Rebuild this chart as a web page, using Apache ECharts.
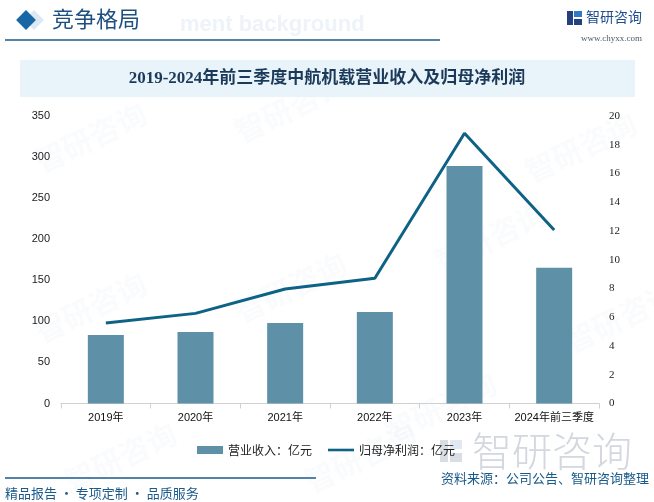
<!DOCTYPE html>
<html>
<head>
<meta charset="utf-8">
<script src="https://cdn.jsdelivr.net/npm/echarts@6/dist/echarts.min.js"></script>
<style>
html,body{margin:0;padding:0;background:#fff;}
#c{width:654px;height:502px;}
</style>
</head>
<body>
<div id="c"></div>
<script>
const categories = ['2019年','2020年','2021年','2022年','2023年','2024年前三季度'];
const revenue = [83.4, 87.0, 97.9, 111.4, 289.1, 165.3];
const netProfit = [5.6, 6.27, 7.97, 8.71, 18.8, 12.07];
const leftTicks = {min: 0, max: 350, interval: 50};
const rightTicks = {min: 0, max: 20, interval: 2};
const seriesNames = ['营业收入：亿元', '归母净利润：亿元'];

const CJK = '"Noto Sans CJK SC", sans-serif';
const blue = '#1A5A8A';

const chart = echarts.init(document.getElementById('c'), null, {renderer: 'canvas'});

// faint watermarks
const wm = [];
const wmPos = [[30,150],[230,120],[30,320],[230,300],[430,250],[60,470],[300,470],[520,160],[560,330],[380,420]];
wmPos.forEach(p => {
  wm.push({
    type: 'text', x: p[0], y: p[1], rotation: Math.PI/7, silent: true, z: 0,
    style: {text: '智研咨询', font: 'bold 30px ' + CJK, fill: 'rgba(200,215,228,0.09)'}
  });
});

chart.setOption({
  animation: false,
  backgroundColor: '#fff',
  grid: {left: 61, right: 55, top: 116, bottom: 98.5},
  legend: {
    data: [
      {name: seriesNames[0], icon: 'rect'},
      {name: seriesNames[1], icon: 'path://M0,0 L30,0 L30,3 L0,3 Z'}
    ],
    left: 192, top: 439, itemWidth: 26, itemHeight: 8, itemGap: 16,
    textStyle: {fontFamily: CJK, fontSize: 12, color: '#222'}
  },
  xAxis: {
    type: 'category', data: categories,
    axisLine: {lineStyle: {color: '#d0d0d0'}},
    axisTick: {show: true, lineStyle: {color: '#d0d0d0'}, length: 5},
    axisLabel: {fontFamily: 'Liberation Sans, ' + CJK, fontSize: 11, color: '#111', margin: 9, interval: 0}
  },
  yAxis: [
    {
      type: 'value', min: leftTicks.min, max: leftTicks.max, interval: leftTicks.interval,
      splitLine: {show: false}, axisLine: {show: false}, axisTick: {show: false},
      axisLabel: {fontFamily: 'Liberation Sans, Arial, sans-serif', fontSize: 11, color: '#222', margin: 11}
    },
    {
      type: 'value', min: rightTicks.min, max: rightTicks.max, interval: rightTicks.interval,
      splitLine: {show: false}, axisLine: {show: false}, axisTick: {show: false},
      axisLabel: {fontFamily: 'Liberation Serif, serif', fontSize: 11, color: '#222', margin: 10}
    }
  ],
  series: [
    {
      name: seriesNames[0], type: 'bar', data: revenue, yAxisIndex: 0,
      barWidth: 36, itemStyle: {color: '#5E91A8'}, z: 2
    },
    {
      name: seriesNames[1], type: 'line', data: netProfit, yAxisIndex: 1,
      showSymbol: false, symbol: 'none', lineStyle: {color: '#0E6285', width: 3}, itemStyle: {color: '#0E6285'}, z: 3
    }
  ],
  graphic: wm.concat([
    // header background faint text
    {type: 'text', x: 180, y: 14, silent: true, style: {text: 'ment background', font: 'bold 22px "Liberation Sans", Arial, sans-serif', fill: '#edf3f9'}},
    // diamonds
    {type: 'rect', shape: {x: -7, y: -7, width: 14, height: 14}, x: 34, y: 20, rotation: Math.PI/4, style: {fill: '#dce9f4'}},
    {type: 'rect', shape: {x: -7, y: -7, width: 14, height: 14}, x: 26, y: 20, rotation: Math.PI/4, style: {fill: '#1766A5'}},
    {type: 'text', x: 52, y: 8, style: {text: '竞争格局', font: '22px ' + CJK, fill: '#1D4F80'}},
    {type: 'line', shape: {x1: 5, y1: 40, x2: 440, y2: 40}, style: {stroke: blue, lineWidth: 1.5}},
    // logo
    {type: 'rect', shape: {x: 567, y: 11, width: 6, height: 14}, style: {fill: '#23407F'}},
    {type: 'rect', shape: {x: 574, y: 11, width: 8, height: 6}, style: {fill: '#2E7BC4'}},
    {type: 'rect', shape: {x: 574, y: 19, width: 8, height: 6}, style: {fill: '#23407F'}},
    {type: 'text', x: 586, y: 10, style: {text: '智研咨询', font: '14px ' + CJK, fill: '#1E4E8C'}},
    {type: 'text', x: 581, y: 34, style: {text: 'www.chyxx.com', font: '9px "Liberation Serif", serif', fill: '#4a5a6a'}},
    // title box
    {type: 'rect', shape: {x: 20, y: 60, width: 615, height: 37}, style: {fill: '#E8F3FA'}},
    {type: 'text', x: 327, y: 79, style: {text: '2019-2024年前三季度中航机载营业收入及归母净利润', font: 'bold 17px "Liberation Serif", ' + CJK, fill: '#1B3A5A', align: 'center', verticalAlign: 'middle'}},
    // bottom watermark logo
    {type: 'rect', shape: {x: 440, y: 440, width: 8, height: 22}, style: {fill: '#d9dde4'}},
    {type: 'rect', shape: {x: 450, y: 440, width: 12, height: 9}, style: {fill: '#e0e9f3'}},
    {type: 'rect', shape: {x: 450, y: 453, width: 12, height: 9}, style: {fill: '#d9dde4'}},
    {type: 'text', x: 472, y: 431, style: {text: '智研咨询', font: '300 40px ' + CJK, fill: '#d3d7de'}},
    // footer
    {type: 'line', shape: {x1: 5, y1: 478, x2: 316, y2: 478}, style: {stroke: blue, lineWidth: 1.5}},
    {type: 'text', x: 649, y: 478, style: {text: '资料来源：公司公告、智研咨询整理', font: '13px ' + CJK, fill: blue, align: 'right', verticalAlign: 'middle'}},
    {type: 'text', x: 5, y: 493, style: {text: '精品报告 · 专项定制 · 品质服务', font: '13px ' + CJK, fill: blue, verticalAlign: 'middle'}}
  ])
});
</script>
</body>
</html>
